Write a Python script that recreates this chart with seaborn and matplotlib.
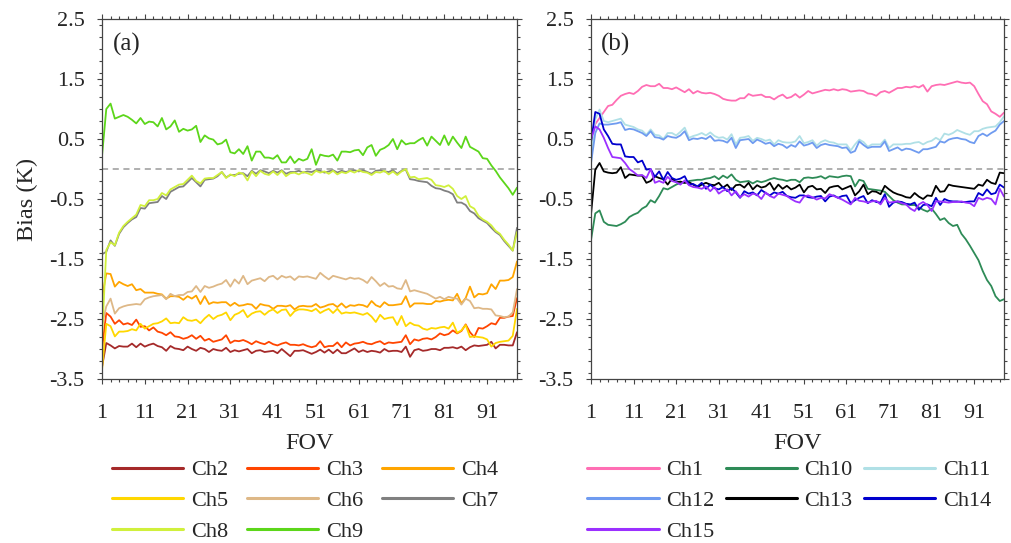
import numpy as np
import pandas as pd
import matplotlib
matplotlib.use("Agg")
import matplotlib.pyplot as plt
from matplotlib.ticker import FixedLocator, MultipleLocator
from matplotlib.lines import Line2D
import seaborn as sns

sns.set_style("ticks")
plt.rcParams["font.family"] = ["Liberation Serif", "DejaVu Serif"]
plt.rcParams["axes.unicode_minus"] = False

fov = np.arange(1, 99)
xticks = [1, 11, 21, 31, 41, 51, 61, 71, 81, 91]
yticks = [-3.5, -2.5, -1.5, -0.5, 0.5, 1.5, 2.5]

# ---- panel (a): Ch2 - Ch9 ----
ch2 = [-3.30, -2.90, -2.94, -2.99, -2.95, -2.96, -2.96, -2.91, -2.97, -2.91,
       -2.96, -2.93, -2.91, -2.95, -2.97, -3.03, -2.95, -2.99, -3.00, -3.02,
       -2.96, -3.00, -3.03, -2.98, -3.00, -3.05, -3.00, -3.02, -3.03, -2.98,
       -3.05, -3.02, -3.04, -3.02, -3.00, -3.07, -3.03, -3.02, -3.05, -3.04,
       -3.03, -3.07, -3.00, -3.06, -3.12, -3.03, -3.03, -3.02, -3.05, -3.08,
       -3.05, -3.01, -3.06, -3.01, -3.07, -3.01, -3.07, -3.07, -3.03, -2.99,
       -3.05, -3.02, -3.05, -3.03, -3.04, -3.06, -3.00, -3.04, -3.03, -3.03,
       -3.05, -2.96, -3.13, -3.02, -3.00, -3.03, -3.02, -3.00, -3.00, -3.02,
       -2.98, -2.98, -2.97, -2.99, -2.96, -3.02, -2.97, -2.94, -2.95, -2.94,
       -2.93, -2.88, -2.99, -2.93, -2.93, -2.94, -2.94, -2.72]
ch3 = [-3.00, -2.40, -2.46, -2.58, -2.52, -2.59, -2.57, -2.60, -2.51, -2.63,
       -2.62, -2.69, -2.64, -2.71, -2.73, -2.77, -2.72, -2.79, -2.80, -2.83,
       -2.81, -2.77, -2.83, -2.78, -2.86, -2.83, -2.88, -2.86, -2.84, -2.77,
       -2.90, -2.86, -2.87, -2.85, -2.88, -2.92, -2.87, -2.90, -2.92, -2.88,
       -2.92, -2.94, -2.91, -2.89, -2.93, -2.93, -2.94, -2.92, -2.95, -2.97,
       -2.95, -2.87, -2.97, -2.95, -2.95, -2.89, -2.97, -2.89, -2.94, -2.91,
       -2.90, -2.88, -2.91, -2.92, -2.89, -2.87, -2.92, -2.89, -2.90, -2.89,
       -2.88, -2.77, -2.92, -2.84, -2.86, -2.83, -2.82, -2.84, -2.80, -2.74,
       -2.77, -2.75, -2.69, -2.74, -2.70, -2.59, -2.72, -2.80, -2.65, -2.66,
       -2.62, -2.57, -2.59, -2.48, -2.48, -2.46, -2.45, -2.15]
ch4 = [-2.15, -1.74, -1.75, -1.96, -1.88, -1.92, -1.95, -1.92, -2.02, -2.00,
       -2.06, -2.06, -2.06, -2.08, -2.09, -2.16, -2.12, -2.12, -2.13, -2.18,
       -2.12, -2.16, -2.11, -2.25, -2.12, -2.25, -2.22, -2.23, -2.22, -2.22,
       -2.28, -2.23, -2.28, -2.27, -2.25, -2.26, -2.33, -2.25, -2.27, -2.28,
       -2.33, -2.28, -2.28, -2.29, -2.27, -2.34, -2.29, -2.28, -2.29, -2.29,
       -2.25, -2.31, -2.29, -2.26, -2.25, -2.30, -2.24, -2.31, -2.27, -2.28,
       -2.26, -2.27, -2.30, -2.20, -2.27, -2.30, -2.22, -2.27, -2.27, -2.26,
       -2.25, -2.12, -2.30, -2.24, -2.24, -2.24, -2.25, -2.25, -2.20, -2.21,
       -2.19, -2.18, -2.19, -2.08, -2.24, -2.15, -1.96, -2.14, -2.08, -2.09,
       -2.07, -1.92, -2.00, -1.86, -1.86, -1.85, -1.80, -1.54]
ch5 = [-3.35, -2.58, -2.62, -2.79, -2.71, -2.71, -2.70, -2.67, -2.69, -2.58,
       -2.66, -2.62, -2.58, -2.57, -2.54, -2.49, -2.57, -2.56, -2.57, -2.47,
       -2.52, -2.53, -2.51, -2.57, -2.49, -2.43, -2.50, -2.45, -2.43, -2.39,
       -2.52, -2.43, -2.40, -2.35, -2.47, -2.41, -2.38, -2.37, -2.43, -2.37,
       -2.34, -2.40, -2.35, -2.34, -2.45, -2.37, -2.34, -2.34, -2.35, -2.37,
       -2.33, -2.40, -2.36, -2.33, -2.40, -2.33, -2.41, -2.39, -2.40, -2.39,
       -2.41, -2.43, -2.40, -2.46, -2.55, -2.43, -2.50, -2.48, -2.47, -2.60,
       -2.45, -2.62, -2.56, -2.60, -2.61, -2.66, -2.68, -2.65, -2.66, -2.64,
       -2.63, -2.66, -2.56, -2.73, -2.69, -2.60, -2.80, -2.79, -2.80, -2.81,
       -2.84, -2.96, -2.90, -2.88, -2.87, -2.86, -2.78, -2.33]
ch6 = [-2.60, -2.29, -2.16, -2.41, -2.32, -2.29, -2.27, -2.26, -2.25, -2.26,
       -2.17, -2.14, -2.12, -2.11, -2.10, -2.17, -2.08, -2.12, -2.10, -2.10,
       -2.05, -2.04, -1.95, -2.05, -1.95, -1.98, -1.96, -1.93, -1.91, -1.85,
       -1.96, -1.84, -1.91, -1.78, -1.92, -1.86, -1.84, -1.82, -1.87, -1.80,
       -1.78, -1.84, -1.78, -1.81, -1.79, -1.85, -1.79, -1.80, -1.79, -1.81,
       -1.83, -1.73, -1.79, -1.84, -1.78, -1.80, -1.82, -1.84, -1.81, -1.83,
       -1.82, -1.85, -1.90, -1.80, -1.87, -1.95, -1.90, -1.96, -1.95, -1.99,
       -2.00, -1.85, -2.04, -2.02, -2.04, -2.06, -2.08, -2.12, -2.16, -2.13,
       -2.17, -2.13, -2.15, -2.16, -2.26, -2.16, -2.20, -2.32, -2.31, -2.33,
       -2.33, -2.34, -2.44, -2.45, -2.47, -2.46, -2.39, -2.00]
ch7 = [-1.42, -1.38, -1.19, -1.28, -1.08, -0.97, -0.90, -0.84, -0.80, -0.65,
       -0.66, -0.57, -0.56, -0.55, -0.45, -0.50, -0.38, -0.34, -0.30, -0.29,
       -0.22, -0.15, -0.22, -0.29, -0.18, -0.17, -0.16, -0.12, -0.05, -0.14,
       -0.10, -0.10, -0.08, -0.07, -0.12, -0.03, -0.08, -0.02, -0.04, -0.07,
       -0.03, -0.06, -0.02, -0.08, -0.05, -0.05, -0.03, -0.06, -0.04, -0.05,
       -0.02, -0.03, -0.06, -0.04, -0.02, -0.06, -0.03, -0.05, -0.03, -0.02,
       -0.04, -0.02, -0.05, -0.08, -0.03, -0.02, -0.04, -0.05, -0.02, -0.08,
       -0.03, -0.01, -0.17, -0.18, -0.20, -0.21, -0.22, -0.28, -0.32, -0.33,
       -0.36, -0.38, -0.42, -0.56, -0.56, -0.60, -0.70, -0.74, -0.82, -0.86,
       -0.90, -0.98, -1.05, -1.10, -1.20, -1.28, -1.36, -0.98]
ch8 = [-2.80, -1.35, -1.22, -1.27, -1.06, -0.95, -0.88, -0.82, -0.76, -0.60,
       -0.62, -0.52, -0.52, -0.50, -0.40, -0.44, -0.34, -0.30, -0.26, -0.25,
       -0.18, -0.11, -0.20, -0.24, -0.16, -0.15, -0.15, -0.10, -0.05, -0.15,
       -0.09, -0.12, -0.06, -0.08, -0.19, -0.04, -0.12, -0.03, -0.08, -0.10,
       -0.04, -0.10, -0.03, -0.12, -0.07, -0.06, -0.09, -0.05, -0.07, -0.10,
       -0.03, -0.06, -0.04, -0.08, -0.03, -0.09, -0.05, -0.07, -0.03, -0.06,
       -0.02, -0.05, -0.06, -0.10, -0.05, -0.06, -0.03, -0.09, -0.04, -0.10,
       -0.04, 0.00, -0.14, -0.13, -0.17, -0.16, -0.15, -0.18, -0.27, -0.28,
       -0.30, -0.27, -0.33, -0.45, -0.50, -0.45, -0.62, -0.66, -0.78, -0.84,
       -0.88, -0.94, -1.03, -1.08, -1.18, -1.26, -1.36, -1.05]
ch9 = [0.22, 1.00, 1.09, 0.84, 0.87, 0.90, 0.87, 0.82, 0.76, 0.85,
       0.75, 0.79, 0.78, 0.71, 0.85, 0.66, 0.71, 0.81, 0.62, 0.67,
       0.64, 0.66, 0.72, 0.45, 0.56, 0.51, 0.49, 0.41, 0.43, 0.49,
       0.28, 0.26, 0.33, 0.25, 0.38, 0.14, 0.29, 0.29, 0.19, 0.19,
       0.17, 0.23, 0.11, 0.11, 0.21, 0.10, 0.17, 0.14, 0.17, 0.33,
       0.07, 0.24, 0.22, 0.21, 0.24, 0.14, 0.29, 0.29, 0.28, 0.31,
       0.32, 0.23, 0.36, 0.40, 0.22, 0.32, 0.35, 0.40, 0.50, 0.33,
       0.48, 0.41, 0.43, 0.43, 0.48, 0.52, 0.39, 0.54, 0.47, 0.40,
       0.56, 0.40, 0.54, 0.44, 0.35, 0.54, 0.37, 0.33, 0.29, 0.18,
       0.17, 0.06, -0.03, -0.14, -0.23, -0.32, -0.43, -0.31]

# ---- panel (b): Ch1, Ch10 - Ch15 ----
ch1 = [0.45, 0.75, 0.85, 0.95, 1.05, 1.07, 1.15, 1.22, 1.25, 1.27,
       1.25, 1.30, 1.37, 1.40, 1.38, 1.38, 1.42, 1.35, 1.35, 1.33,
       1.36, 1.32, 1.28, 1.33, 1.26, 1.30, 1.27, 1.26, 1.27, 1.25,
       1.22, 1.17, 1.15, 1.14, 1.14, 1.18, 1.18, 1.25, 1.22, 1.23,
       1.24, 1.20, 1.20, 1.16, 1.21, 1.24, 1.18, 1.20, 1.25, 1.19,
       1.24, 1.30, 1.26, 1.28, 1.30, 1.32, 1.31, 1.33, 1.31, 1.33,
       1.32, 1.29, 1.30, 1.31, 1.30, 1.26, 1.25, 1.22, 1.28, 1.30,
       1.27, 1.31, 1.35, 1.35, 1.37, 1.36, 1.38, 1.36, 1.40, 1.29,
       1.38, 1.40, 1.41, 1.40, 1.42, 1.44, 1.46, 1.44, 1.43, 1.44,
       1.38, 1.25, 1.13, 1.08, 0.96, 0.92, 0.87, 0.94]
ch10 = [-1.18, -0.74, -0.69, -0.88, -0.93, -0.94, -0.95, -0.92, -0.88, -0.80,
        -0.76, -0.73, -0.66, -0.62, -0.52, -0.56, -0.45, -0.32, -0.34, -0.30,
        -0.26, -0.23, -0.23, -0.20, -0.19, -0.18, -0.18, -0.16, -0.15, -0.12,
        -0.17, -0.11, -0.15, -0.09, -0.18, -0.22, -0.21, -0.20, -0.24, -0.20,
        -0.22, -0.20, -0.17, -0.15, -0.17, -0.18, -0.20, -0.18, -0.18, -0.22,
        -0.15, -0.14, -0.15, -0.14, -0.12, -0.16, -0.12, -0.13, -0.14, -0.12,
        -0.11, -0.12, -0.29, -0.18, -0.20, -0.33, -0.34, -0.35, -0.36, -0.38,
        -0.45, -0.52, -0.56, -0.59, -0.59, -0.60, -0.60, -0.64, -0.68, -0.71,
        -0.66, -0.75, -0.85, -0.82, -0.90, -0.95, -0.93, -1.08, -1.17, -1.28,
        -1.40, -1.52, -1.70, -1.85, -1.95, -2.12, -2.20, -2.17]
ch11 = [0.18, 0.83, 0.99, 0.80, 0.78, 0.80, 0.82, 0.84, 0.74, 0.72,
        0.70, 0.66, 0.64, 0.57, 0.66, 0.57, 0.56, 0.50, 0.60, 0.60,
        0.56, 0.62, 0.69, 0.52, 0.55, 0.57, 0.60, 0.56, 0.61, 0.55,
        0.52, 0.53, 0.49, 0.58, 0.41, 0.52, 0.53, 0.55, 0.47, 0.52,
        0.50, 0.47, 0.49, 0.41, 0.48, 0.45, 0.44, 0.44, 0.46, 0.55,
        0.43, 0.45, 0.48, 0.39, 0.45, 0.48, 0.45, 0.44, 0.41, 0.41,
        0.41, 0.31, 0.41, 0.49, 0.45, 0.37, 0.41, 0.41, 0.41, 0.49,
        0.35, 0.41, 0.41, 0.41, 0.42, 0.42, 0.44, 0.45, 0.41, 0.45,
        0.47, 0.52, 0.48, 0.59, 0.57, 0.60, 0.65, 0.62, 0.59, 0.57,
        0.63, 0.63, 0.67, 0.69, 0.70, 0.71, 0.78, 0.88]
ch12 = [0.10, 0.60, 0.76, 0.74, 0.74, 0.75, 0.76, 0.78, 0.65, 0.67,
        0.66, 0.63, 0.60, 0.55, 0.63, 0.53, 0.52, 0.49, 0.55, 0.53,
        0.52, 0.56, 0.63, 0.48, 0.51, 0.50, 0.52, 0.50, 0.55, 0.47,
        0.48, 0.47, 0.44, 0.52, 0.35, 0.48, 0.49, 0.50, 0.43, 0.49,
        0.46, 0.42, 0.44, 0.38, 0.42, 0.40, 0.35, 0.40, 0.37, 0.46,
        0.39, 0.41, 0.44, 0.35, 0.40, 0.42, 0.40, 0.39, 0.38, 0.35,
        0.36, 0.27, 0.30, 0.46, 0.40, 0.35, 0.37, 0.37, 0.37, 0.46,
        0.30, 0.33, 0.36, 0.31, 0.34, 0.33, 0.30, 0.27, 0.33, 0.33,
        0.35, 0.37, 0.46, 0.44, 0.49, 0.51, 0.52, 0.50, 0.49, 0.45,
        0.43, 0.55, 0.59, 0.55, 0.60, 0.64, 0.74, 0.80]
ch13 = [-0.75, -0.01, 0.10, -0.04, -0.06, -0.07, -0.06, 0.03, -0.15, -0.09,
        -0.10, -0.11, -0.11, -0.23, -0.20, -0.12, -0.15, -0.17, -0.26, -0.16,
        -0.22, -0.21, -0.23, -0.22, -0.26, -0.30, -0.26, -0.23, -0.26, -0.27,
        -0.23, -0.31, -0.26, -0.35, -0.27, -0.26, -0.31, -0.23, -0.34, -0.27,
        -0.31, -0.29, -0.23, -0.35, -0.26, -0.33, -0.28, -0.34, -0.31, -0.26,
        -0.39, -0.30, -0.28, -0.34, -0.33, -0.40, -0.31, -0.29, -0.28, -0.34,
        -0.31, -0.28, -0.44, -0.37, -0.26, -0.42, -0.37, -0.38, -0.42, -0.28,
        -0.34, -0.39, -0.42, -0.44, -0.47, -0.48, -0.40, -0.46, -0.50, -0.44,
        -0.45, -0.28, -0.38, -0.37, -0.26, -0.28, -0.29, -0.30, -0.31, -0.32,
        -0.33, -0.26, -0.28, -0.18, -0.23, -0.25, -0.06, -0.07]
ch14 = [0.45, 0.95, 0.92, 0.66, 0.55, 0.42, 0.41, 0.41, 0.21, 0.20,
        0.20, 0.11, 0.14, -0.01, 0.00, -0.13, -0.04, -0.18, -0.05, -0.15,
        -0.18, -0.16, -0.12, -0.26, -0.25, -0.29, -0.23, -0.33, -0.26, -0.32,
        -0.34, -0.30, -0.37, -0.32, -0.39, -0.48, -0.37, -0.41, -0.39, -0.44,
        -0.35, -0.40, -0.44, -0.39, -0.41, -0.38, -0.45, -0.47, -0.48, -0.44,
        -0.44, -0.47, -0.48, -0.46, -0.45, -0.54, -0.46, -0.44, -0.48, -0.45,
        -0.44, -0.57, -0.52, -0.48, -0.45, -0.57, -0.52, -0.55, -0.56, -0.42,
        -0.63, -0.56, -0.54, -0.55, -0.58, -0.59, -0.56, -0.68, -0.60, -0.59,
        -0.62, -0.48, -0.60, -0.50, -0.53, -0.54, -0.54, -0.55, -0.55, -0.54,
        -0.54, -0.40, -0.44, -0.34, -0.42, -0.40, -0.26, -0.31]
ch15 = [0.50, 0.71, 0.66, 0.52, 0.35, 0.20, 0.19, 0.18, 0.10, 0.00,
        -0.05, -0.11, -0.10, -0.15, 0.00, -0.23, -0.20, -0.23, -0.13, -0.20,
        -0.22, -0.26, -0.19, -0.27, -0.30, -0.31, -0.33, -0.29, -0.37, -0.30,
        -0.41, -0.36, -0.34, -0.44, -0.37, -0.47, -0.42, -0.46, -0.41, -0.43,
        -0.50, -0.39, -0.45, -0.48, -0.41, -0.43, -0.45, -0.50, -0.54, -0.56,
        -0.46, -0.44, -0.47, -0.51, -0.48, -0.49, -0.42, -0.45, -0.48, -0.51,
        -0.55, -0.59, -0.48, -0.53, -0.54, -0.56, -0.54, -0.53, -0.59, -0.48,
        -0.56, -0.55, -0.54, -0.57, -0.59, -0.66, -0.70, -0.59, -0.55, -0.60,
        -0.70, -0.54, -0.54, -0.55, -0.56, -0.55, -0.55, -0.54, -0.56, -0.57,
        -0.62, -0.48, -0.51, -0.48, -0.50, -0.59, -0.33, -0.46]

names_a = ["Ch2", "Ch3", "Ch4", "Ch5", "Ch6", "Ch7", "Ch8", "Ch9"]
colors_a = ["#a52a2a", "#ff4500", "#ffa500", "#ffd700",
            "#deb887", "#808080", "#d0f03c", "#5cd61a"]
names_b = ["Ch1", "Ch10", "Ch11", "Ch12", "Ch13", "Ch14", "Ch15"]
colors_b = ["#ff6eb4", "#2e8b57", "#b0e0e6", "#6f9bf0",
            "#000000", "#0000cd", "#9b30ff"]


def long_table(names, series):
    parts = [pd.DataFrame({"FOV": fov, "Bias": vals, "Channel": n})
             for n, vals in zip(names, series)]
    return pd.concat(parts, ignore_index=True)


def draw(ax, names, series, colors, tag):
    df = long_table(names, series)
    ax.axhline(0, color="#9a9a9a", ls=(0, (4, 3)), lw=1.1, zorder=1)
    sns.lineplot(data=df, x="FOV", y="Bias", hue="Channel", hue_order=names,
                 palette=colors, estimator=None, sort=False, lw=1.3,
                 legend=False, ax=ax)
    ax.set_xlim(1, 98)
    ax.set_ylim(-3.5, 2.5)
    ax.xaxis.set_major_locator(FixedLocator(xticks))
    ax.xaxis.set_minor_locator(FixedLocator(np.arange(1, 99, 2)))
    ax.yaxis.set_major_locator(FixedLocator(yticks))
    ax.yaxis.set_minor_locator(MultipleLocator(0.2))
    ax.set_yticklabels([f"{v:.1f}" for v in yticks])
    ax.tick_params(which="both", direction="out", top=True, right=True,
                   color="#444444", width=0.8, labelsize=16)
    ax.tick_params(which="major", length=3.5)
    ax.tick_params(which="minor", length=2.5)
    ax.tick_params(axis="x", which="major", pad=14.5)
    ax.tick_params(axis="y", which="major", pad=9)
    for s in ax.spines.values():
        s.set_color("#444444")
        s.set_linewidth(0.9)
    ax.set_xlabel("FOV", fontsize=17.5, labelpad=7)
    ax.set_ylabel("")
    ax.text(0.025, 0.96, tag, transform=ax.transAxes, fontsize=18,
            va="top", ha="left")


fig = plt.figure(figsize=(10.11, 5.43), dpi=100)
ax_a = fig.add_axes([0.1009, 0.302, 0.4105, 0.663])
ax_b = fig.add_axes([0.5846, 0.302, 0.4085, 0.663])

draw(ax_a, names_a, [ch2, ch3, ch4, ch5, ch6, ch7, ch8, ch9], colors_a, "(a)")
draw(ax_b, names_b, [ch1, ch10, ch11, ch12, ch13, ch14, ch15], colors_b, "(b)")
ax_a.set_ylabel("Bias (K)", fontsize=17.5, labelpad=8)

# legends laid out row by row, 3 per row
order_a = [0, 3, 6, 1, 4, 7, 2, 5]
order_b = [0, 3, 6, 1, 4, 2, 5]
for names, colors, order, x0, cs in [(names_a, colors_a, order_a, 0.111, 0.85),
                                     (names_b, colors_b, order_b, 0.581, 0.5)]:
    handles = [Line2D([], [], color=colors[i], lw=2.2) for i in order]
    labels = [names[i] for i in order]
    fig.legend(handles, labels, loc="upper left", bbox_to_anchor=(x0, 0.153),
               ncol=3, frameon=False, fontsize=16, handlelength=3.2,
               handletextpad=0.35, columnspacing=cs, labelspacing=0.45,
               borderpad=0, borderaxespad=0)

fig.savefig("out.png", dpi=100)
